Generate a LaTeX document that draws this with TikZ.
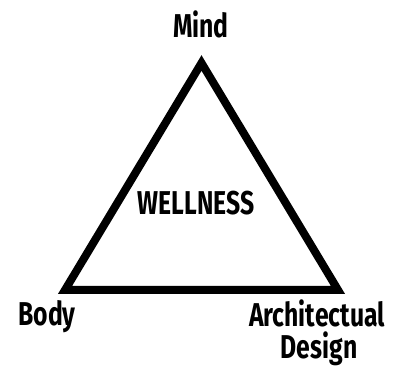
\documentclass[tikz,border=0pt]{standalone}
\usepackage{fontspec}
\setmainfont{Fira Sans}[FakeStretch=0.75, UprightFont=* Bold, BoldFont=* Bold]
\begin{document}
\begin{tikzpicture}[x=1pt,y=1pt,
  lbl/.style={anchor=base, inner sep=0pt, font=\fontsize{33}{33}\selectfont},
  edge/.style={line width=8pt, line join=miter}]
\useasboundingbox (0,0) rectangle (408,366);
\coordinate (top) at (201.5,303);
\coordinate (bl) at (65,76);
\coordinate (br) at (338,76);
\draw[edge] (top) -- (bl) -- (br) -- cycle;
\node[lbl] (mind) at (201,328) {Mind};
\node[lbl] (well) at (196,151) {WELLNESS};
\node[lbl] (body) at (47,40) {Body};
\node[lbl] (arch) at (317,39) {Architectual};
\node[lbl] (des) at (319,7) {Design};
\end{tikzpicture}
\end{document}
